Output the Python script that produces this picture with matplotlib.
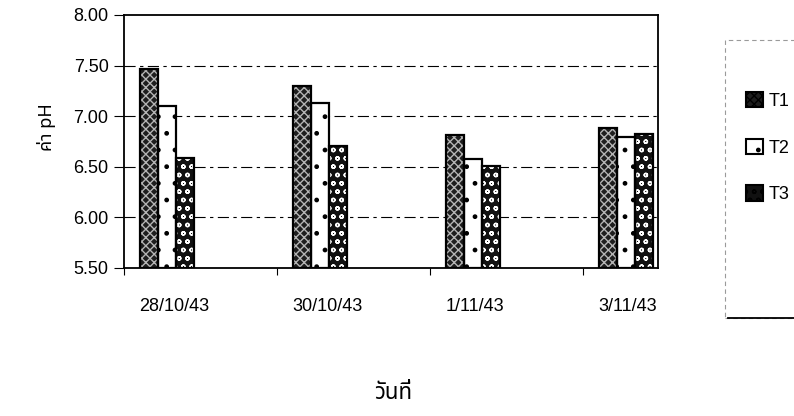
import matplotlib.pyplot as plt
from matplotlib.patches import Patch, Rectangle
from matplotlib.lines import Line2D
import numpy as np

plt.rcParams['font.family'] = ['Liberation Sans', 'DejaVu Sans']
thai_fonts = ['Noto Sans Thai', 'Loma', 'Garuda', 'Tlwg Typo', 'Norasi',
              'Noto Sans', 'DejaVu Sans']

# pH readings for each sampling date
dates = ['28/10/43', '30/10/43', '1/11/43', '3/11/43']
ph_t1 = [7.47, 7.30, 6.81, 6.88]
ph_t2 = [7.10, 7.13, 6.58, 6.79]
ph_t3 = [6.59, 6.70, 6.51, 6.82]
series = ['T1', 'T2', 'T3']
yticks = [5.50, 6.00, 6.50, 7.00, 7.50, 8.00]

# fill, hatch colour, hatch for each treatment
styles = [('#1e1e1e', '#b4b4b4', 'xxxx'),
          ('white', 'black', '.'),
          ('#111111', 'white', 'oo')]

fig = plt.figure(figsize=(7.94, 4.16), dpi=100)
ax = fig.add_axes([0.156, 0.356, 0.673, 0.608])

x = np.arange(len(dates))
width = 0.117
offset = 0.28
handles = []
for i, vals in enumerate([ph_t1, ph_t2, ph_t3]):
    face, hcol, hatch = styles[i]
    xs = x + offset + (i - 1) * width
    heights = np.array(vals) - 5.5
    ax.bar(xs, heights, width, bottom=5.5, color=face, edgecolor=hcol,
           hatch=hatch, linewidth=0, zorder=3)
    ax.bar(xs, heights, width, bottom=5.5, facecolor='none',
           edgecolor='black', linewidth=1.6, zorder=4)
    handles.append(Patch(facecolor=face, edgecolor='black', hatch=hatch,
                         linewidth=1.5, label=series[i]))

ax.set_xlim(0, 3.49)
ax.set_ylim(5.5, 8.0)
ax.set_yticks(yticks)
ax.set_yticklabels(['%.2f' % v for v in yticks], fontsize=13)
for v in yticks[1:-1]:
    ax.axhline(v, color='black', lw=0.8, ls=(0, (10, 4, 3, 4)), zorder=1)

# category boundary ticks; date labels start at the first bar of a group
ax.set_xticks(x)
ax.set_xticklabels([])
ax.set_xticks(x + offset - 1.55 * width, minor=True)
ax.set_xticklabels(dates, minor=True, fontsize=13, ha='left')
ax.tick_params(axis='x', which='major', length=5, direction='out')
ax.tick_params(axis='x', which='minor', length=0, pad=22)
ax.tick_params(axis='y', length=7, direction='out', pad=4)

for sp in ax.spines.values():
    sp.set_linewidth(1.3)

ax.set_ylabel('ค่า pH', fontsize=13, fontweight='bold', family=thai_fonts)
ax.yaxis.set_label_coords(-0.127, 0.557)
fig.text(0.495, 0.055, 'วันที่', ha='center', va='center', fontsize=16,
         fontweight='bold', family=thai_fonts)

# legend box runs past the right edge of the figure
fig.patches.append(Rectangle((0.913, 0.236), 0.2, 0.668,
                             transform=fig.transFigure, facecolor='none',
                             edgecolor='#9a9a9a', linewidth=0.8,
                             linestyle=(0, (4, 3))))
fig.lines.append(Line2D([0.917, 1.0], [0.236, 0.236],
                        transform=fig.transFigure, color='black', lw=1.3))
leg = fig.legend(handles=handles, loc='upper left',
                 bbox_to_anchor=(0.923, 0.81), fontsize=13, frameon=False,
                 labelspacing=1.6, handlelength=0.95, handleheight=0.95,
                 handletextpad=0.35, borderpad=0.2)

fig.savefig('out.png', dpi=100)
